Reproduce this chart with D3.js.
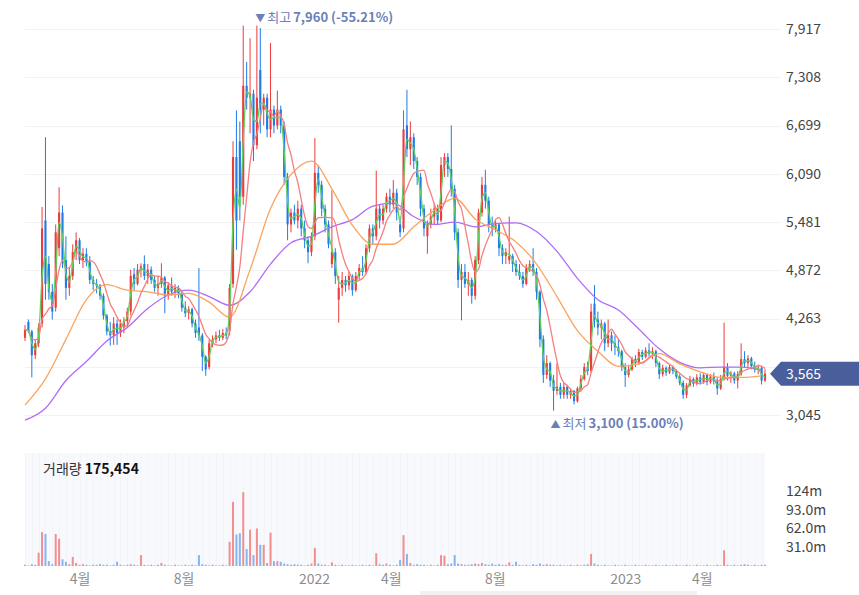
<!DOCTYPE html>
<html>
<head>
<meta charset="utf-8">
<script src="https://cdn.jsdelivr.net/npm/d3@7"></script>
<style>
  body { margin: 0; background: #fff; }
  svg text { font-family: 'Noto Sans CJK KR', 'Noto Sans', sans-serif; }
</style>
</head>
<body>
<div id="chart"></div>
<script>
// candles: one every 4 calendar days from 2021-01-27
const startDay = '2021-01-27'
const stepDays = 4

const opens = [
  4020, 4220, 4100, 3800, 3950, 4200, 5500, 4950, 4600, 4400,
  5150, 5600, 5000, 4650, 4800, 5100, 5250, 5000, 5080, 4980,
  4750, 4700, 4680, 4550, 4300, 4100, 4050, 4200, 4080, 4150,
  4230, 4350, 4820, 4700, 4880, 4950, 4800, 4880, 4750, 4650,
  4700, 4780, 4550, 4680, 4600, 4650, 4580, 4400, 4330, 4380,
  4200, 4150, 4050, 3780, 3650, 3950, 4000, 4050, 4020, 4080,
  4100, 4700, 6300, 6500, 5800, 7200, 7050, 7100, 6450, 7400,
  6900, 7050, 6650, 6900, 6700, 6900, 6700, 6050, 5450, 5600,
  5500, 5650, 5400, 5250, 5100, 5300, 6100, 5950, 5650, 5450,
  4950, 5100, 4500, 4650, 4750, 4680, 4800, 4620, 4800, 4900,
  4850, 5150, 5400, 5300, 5650, 5500, 5650, 5800, 5700, 5850,
  5450, 5400, 6700, 6400, 6550, 6250, 6050, 5650, 5300, 5450,
  5550, 5650, 5500, 6200, 6300, 6150, 5900, 5350, 4750, 4850,
  4700, 4750, 4550, 5000, 5600, 5950, 5750, 5450, 5400, 5450,
  5150, 5050, 5000, 5050, 4950, 4850, 4800, 4700, 4900, 4950,
  4850, 4600, 4000, 3550, 3700, 3480, 3350, 3400, 3300, 3400,
  3300, 3350, 3220, 3380, 3500, 3650, 3600, 4450, 4250, 4150,
  4200, 3950, 4050, 3950, 3900, 3850, 3650, 3550, 3620, 3750,
  3700, 3840, 3780, 3860, 3820, 3850, 3700, 3560, 3640, 3580,
  3650, 3600, 3530, 3450, 3300, 3420, 3500, 3440, 3520, 3460,
  3550, 3460, 3530, 3470, 3380, 3500, 3650, 3540, 3570, 3480,
  3560, 3750, 3700, 3760, 3660, 3620, 3640, 3480
]
const highs = [
  4180, 4250, 4120, 4000, 4200, 5670, 6550, 5050, 4700, 5450,
  5920, 5690, 5300, 4900, 5200, 5350, 5280, 5150, 5150, 5050,
  4800, 4760, 4700, 4580, 4320, 4220, 4280, 4250, 4250, 4280,
  4400, 4880, 4900, 4950, 4960, 5060, 4950, 4920, 4800, 4800,
  4960, 4800, 4720, 4780, 4700, 4680, 4600, 4480, 4420, 4400,
  4250, 4900, 4080, 3800, 4000, 4050, 4100, 4120, 4130, 4150,
  4700, 6500, 6890, 6750, 7960, 7500, 7800, 7150, 7960, 7930,
  7100, 7100, 7740, 6950, 7140, 6950, 6750, 6100, 5650, 5700,
  5750, 5700, 5500, 5300, 5350, 6540, 6200, 6000, 5700, 5500,
  5880, 5150, 4800, 4850, 4800, 4850, 4820, 4850, 4950, 5050,
  5200, 5450, 5450, 6130, 5700, 5700, 5850, 5900, 6010, 5900,
  5550, 6890, 7150, 6750, 6600, 6300, 6100, 5700, 5500, 5650,
  5720, 5700, 6300, 6350, 6350, 6700, 5950, 5400, 4950, 4950,
  4850, 4780, 5050, 5650, 6050, 6140, 5800, 5550, 5500, 5470,
  5200, 5150, 5550, 5080, 5000, 4950, 4850, 4950, 5000, 5150,
  4900, 4620, 4050, 3800, 3720, 3550, 3700, 3450, 3450, 3420,
  3380, 3360, 3400, 3550, 3700, 3720, 4450, 4685, 4350, 4250,
  4220, 4250, 4100, 4050, 4000, 3870, 3700, 3680, 3780, 3800,
  3880, 3870, 3900, 3950, 3900, 3870, 3720, 3680, 3660, 3680,
  3670, 3620, 3560, 3480, 3450, 3540, 3520, 3560, 3570, 3580,
  3570, 3560, 3580, 3520, 3550, 4210, 3700, 3600, 3590, 3600,
  3950, 3850, 3800, 3780, 3720, 3680, 3650, 3620
]
const lows = [
  3980, 4080, 3520, 3750, 3900, 4150, 4500, 4500, 4250, 4350,
  5050, 4900, 4500, 4550, 4750, 5000, 4950, 4900, 4920, 4700,
  4620, 4580, 4500, 4250, 4050, 3920, 3930, 3930, 4030, 4080,
  4150, 4300, 4620, 4680, 4780, 4750, 4700, 4700, 4600, 4550,
  4650, 4330, 4500, 4550, 4520, 4520, 4350, 4280, 4250, 4150,
  4020, 3980, 3600, 3540, 3620, 3900, 3950, 3980, 3990, 4000,
  4050, 4650, 5130, 5500, 5700, 6900, 6600, 6250, 6400, 6600,
  6700, 6550, 6550, 6600, 6650, 6600, 5950, 5250, 5350, 5450,
  5400, 5300, 5150, 4960, 5050, 5250, 5850, 5550, 5350, 5150,
  4900, 4700, 4210, 4550, 4600, 4620, 4550, 4600, 4750, 4800,
  4820, 5100, 5200, 5250, 5400, 5450, 5600, 5600, 5650, 5500,
  5290, 5350, 6300, 6200, 6150, 5950, 5550, 5300, 5080, 5400,
  5450, 5450, 5480, 6050, 6050, 5800, 5250, 4650, 4240, 4650,
  4550, 4450, 4500, 4950, 5550, 5650, 5350, 5300, 5350, 5050,
  4950, 4950, 4950, 4850, 4800, 4750, 4650, 4680, 4850, 4800,
  4500, 3900, 3450, 3500, 3400, 3100, 3300, 3250, 3250, 3250,
  3250, 3180, 3200, 3350, 3480, 3550, 3580, 4150, 4050, 4000,
  3850, 3900, 3850, 3800, 3780, 3600, 3400, 3520, 3600, 3650,
  3680, 3740, 3760, 3780, 3750, 3650, 3500, 3530, 3540, 3560,
  3560, 3500, 3420, 3250, 3260, 3400, 3400, 3420, 3430, 3440,
  3420, 3440, 3430, 3300, 3360, 3480, 3480, 3450, 3440, 3380,
  3540, 3640, 3650, 3620, 3580, 3560, 3430, 3460
]
const closes = [
  4120, 4100, 3800, 3950, 4150, 5400, 4700, 4600, 4350, 5350,
  5600, 5000, 4650, 4800, 5100, 5250, 5000, 5080, 4980, 4750,
  4700, 4680, 4550, 4300, 4100, 4050, 4200, 4080, 4200, 4230,
  4350, 4800, 4700, 4880, 4920, 4800, 4880, 4750, 4650, 4700,
  4780, 4550, 4680, 4600, 4650, 4580, 4400, 4330, 4380, 4200,
  4080, 4050, 3780, 3620, 3950, 4000, 4050, 4020, 4080, 4050,
  4650, 6300, 5500, 5800, 7200, 7050, 7100, 6450, 7050, 6900,
  7050, 6650, 6900, 6700, 6900, 6700, 6050, 5450, 5600, 5500,
  5650, 5400, 5250, 5100, 5300, 6100, 5950, 5650, 5450, 5200,
  5100, 4800, 4650, 4750, 4680, 4800, 4620, 4800, 4900, 4850,
  5150, 5400, 5300, 5650, 5500, 5650, 5800, 5700, 5850, 5600,
  5350, 6650, 6400, 6550, 6250, 6050, 5650, 5400, 5450, 5550,
  5650, 5500, 6200, 6300, 6150, 5900, 5350, 4750, 4850, 4700,
  4750, 4550, 5000, 5600, 5950, 5750, 5450, 5400, 5450, 5150,
  5050, 5100, 5050, 4950, 4850, 4800, 4700, 4900, 4950, 4850,
  4600, 4000, 3550, 3700, 3480, 3350, 3400, 3300, 3400, 3300,
  3350, 3220, 3380, 3500, 3650, 3600, 4350, 4250, 4150, 4200,
  3950, 4050, 3950, 3900, 3850, 3650, 3550, 3620, 3750, 3700,
  3840, 3780, 3860, 3820, 3850, 3700, 3560, 3640, 3580, 3650,
  3600, 3530, 3450, 3300, 3420, 3500, 3440, 3520, 3460, 3550,
  3460, 3530, 3470, 3380, 3500, 3650, 3540, 3570, 3480, 3560,
  3750, 3700, 3760, 3660, 3620, 3640, 3480, 3565
]
// volume in millions
const volumes = [
  2, 1, 3, 2, 22, 56, 53, 8, 3, 53,
  45, 11, 7, 3, 15, 5, 2, 3, 2, 1,
  2, 2, 3, 2, 2, 1, 2, 7, 2, 1,
  2, 3, 2, 1, 18, 2, 1, 2, 1, 2,
  5, 2, 1, 1, 2, 1, 1, 2, 1, 2,
  1, 18, 3, 2, 1, 2, 1, 1, 2, 1,
  40, 106, 52, 54, 122, 28, 60, 18, 62, 35,
  35, 5, 55, 8, 8, 7, 4, 3, 2, 3,
  2, 2, 1, 2, 4, 30, 4, 2, 2, 1,
  6, 2, 1, 2, 1, 1, 2, 1, 1, 2,
  1, 2, 1, 21, 3, 2, 4, 2, 1, 2,
  10, 51, 20, 5, 2, 3, 2, 2, 1, 2,
  1, 2, 18, 17, 3, 4, 18, 4, 3, 2,
  2, 3, 4, 3, 5, 3, 2, 4, 2, 3,
  2, 2, 6, 2, 7, 2, 1, 2, 1, 3,
  2, 4, 2, 3, 2, 2, 1, 2, 1, 1,
  2, 1, 2, 1, 2, 3, 20, 4, 2, 1,
  2, 1, 1, 2, 1, 1, 2, 1, 1, 2,
  1, 1, 2, 1, 1, 2, 1, 1, 2, 1,
  1, 2, 1, 1, 2, 1, 1, 2, 1, 1,
  2, 1, 1, 2, 1, 26, 2, 1, 2, 1,
  2, 3, 2, 1, 2, 1, 2, 2
]
// long moving averages, one value every 6 candles
const ma60Every6 = [3170, 3500, 4000, 4500, 4690, 4620, 4600, 4560, 4580, 4470, 4280, 4880, 5650,
  6080, 6250, 5900, 5440, 5200, 5200, 5420, 5630, 5780, 5520, 5380, 5230, 4950, 4540, 4110,
  3850, 3660, 3690, 3820, 3690, 3590, 3520, 3520, 3540]
const ma120Every6 = [2980, 3130, 3480, 3720, 3980, 4150, 4390, 4560, 4620, 4540, 4430, 4600, 4950,
  5220, 5300, 5420, 5510, 5680, 5720, 5550, 5450, 5480, 5420, 5460, 5470, 5360, 5110, 4770,
  4500, 4370, 4130, 3880, 3710, 3640, 3650, 3650, 3610]

const priceTicks = [3045, 3654, 4263, 4872, 5481, 6090, 6699, 7308, 7917]
const volTicks = [31, 62, 93, 124]
const volTickLabels = ['31.0m', '62.0m', '93.0m', '124m']
const monthTicks = ['2021-04-01', '2021-08-01', '2022-01-01', '2022-04-01', '2022-08-01', '2023-01-01', '2023-04-01']
const monthLabels = ['4월', '8월', '2022', '4월', '8월', '2023', '4월']
const lastVolumeText = '175,454'

const W = 859, H = 595
const upColor = '#ee3b3b', downColor = '#1f7be6'
const font = "'Noto Sans CJK KR', 'Noto Sans', sans-serif"
const parse = d3.timeParse('%Y-%m-%d')
const day0 = parse(startDay)
const dates = closes.map((_, i) => d3.timeDay.offset(day0, i * stepDays))
const n = closes.length

const x = d3.scaleTime()
  .domain([dates[0], dates[n - 1]])
  .range([25, 765])
const y = d3.scaleLinear()
  .domain([3045, 7917])
  .range([415, 29])
const yV = d3.scaleLinear()
  .domain([0, 124])
  .range([566, 491])

const svg = d3.select('#chart').append('svg')
  .attr('width', W)
  .attr('height', H)

// price grid
svg.append('g').selectAll('line')
  .data(priceTicks)
  .enter().append('line')
  .attr('x1', 25).attr('x2', 781)
  .attr('y1', d => Math.round(y(d)) + 0.5)
  .attr('y2', d => Math.round(y(d)) + 0.5)
  .attr('stroke', '#f1f2f4')

// volume panel
svg.append('rect')
  .attr('x', 25).attr('y', 453)
  .attr('width', 740).attr('height', 113)
  .attr('fill', '#f8f9fd')
svg.append('g').selectAll('line')
  .data(dates.filter((_, i) => i % 2 === 0))
  .enter().append('line')
  .attr('x1', d => Math.round(x(d)) + 0.5)
  .attr('x2', d => Math.round(x(d)) + 0.5)
  .attr('y1', 453).attr('y2', 566)
  .attr('stroke', '#f3f4fa')

const spacing = x(dates[1]) - x(dates[0])
const bw = Math.max(1, spacing * 0.62)

svg.append('g').selectAll('rect')
  .data(d3.range(n))
  .enter().append('rect')
  .attr('x', i => x(dates[i]) - 1)
  .attr('width', 2)
  .attr('y', i => yV(volumes[i]))
  .attr('height', i => 566 - yV(volumes[i]))
  .attr('fill', i => closes[i] >= opens[i] ? '#f28e8e' : '#82b6f4')

// candles
const candles = svg.append('g')
candles.selectAll('line')
  .data(d3.range(n))
  .enter().append('line')
  .attr('x1', i => x(dates[i]))
  .attr('x2', i => x(dates[i]))
  .attr('y1', i => y(highs[i]))
  .attr('y2', i => y(lows[i]))
  .attr('stroke', i => closes[i] >= opens[i] ? upColor : downColor)
  .attr('stroke-width', 1)
candles.selectAll('rect')
  .data(d3.range(n))
  .enter().append('rect')
  .attr('x', i => x(dates[i]) - bw / 2)
  .attr('width', bw)
  .attr('y', i => y(Math.max(opens[i], closes[i])))
  .attr('height', i => Math.max(1, Math.abs(y(opens[i]) - y(closes[i]))))
  .attr('fill', i => closes[i] >= opens[i] ? upColor : downColor)

// moving averages
const rolling = (arr, k) => arr.map((_, i) => d3.mean(arr.slice(Math.max(0, i - k + 1), i + 1)))
const ma5 = rolling(closes, 2)
const ma20 = rolling(closes, 7)

const maLine = d3.line()
  .x(d => x(d[0]))
  .y(d => y(d[1]))
  .curve(d3.curveMonotoneX)

const maSeries = [
  { pts: ma120Every6.map((v, k) => [dates[k * 6], v]), color: '#b06cf4' },
  { pts: ma60Every6.map((v, k) => [dates[k * 6], v]), color: '#fba45e' },
  { pts: ma20.map((v, i) => [dates[i], v]), color: '#f67f7f' },
  { pts: ma5.map((v, i) => [dates[i], v]), color: '#5fd15f' }
]
svg.append('g').selectAll('path')
  .data(maSeries)
  .enter().append('path')
  .attr('d', d => maLine(d.pts))
  .attr('fill', 'none')
  .attr('stroke', d => d.color)
  .attr('stroke-width', 1.3)

// right price axis
const yAxis = svg.append('g')
  .attr('transform', 'translate(781,0)')
  .call(d3.axisRight(y).tickValues(priceTicks).tickFormat(d3.format(',')).tickSize(0).tickPadding(5))
yAxis.select('.domain').remove()
yAxis.selectAll('text').attr('font-size', 14).attr('fill', '#444').style('font-family', font)

// volume axis
const vAxis = svg.append('g')
  .attr('transform', 'translate(781,0)')
  .call(d3.axisRight(yV).tickValues(volTicks).tickFormat((d, i) => volTickLabels[i]).tickSize(0).tickPadding(5))
vAxis.select('.domain').remove()
vAxis.selectAll('text').attr('font-size', 14).attr('fill', '#444').style('font-family', font)

// month axis
const xAxis = svg.append('g')
  .attr('transform', 'translate(0,566)')
  .call(d3.axisBottom(x).tickValues(monthTicks.map(parse)).tickFormat((d, i) => monthLabels[i]).tickSize(0).tickPadding(8))
xAxis.select('.domain').remove()
xAxis.selectAll('text').attr('font-size', 14).attr('fill', '#8d8d8d').style('font-family', font)

// last price tag (covers the 3,654 tick like the original)
const last = closes[n - 1]
const ty = y(last)
svg.append('path')
  .attr('d', `M770,${ty} L781,${ty - 12} L859,${ty - 12} L859,${ty + 12} L781,${ty + 12} Z`)
  .attr('fill', '#4a5e9c')
svg.append('text')
  .attr('x', 786).attr('y', ty + 5)
  .attr('font-size', 14).attr('fill', '#fff')
  .text(d3.format(',')(last))

// high / low markers
const maxI = d3.maxIndex(highs), minI = d3.minIndex(lows)
const pct = v => v.toFixed(2)
const hiTxt = svg.append('text')
  .attr('x', x(dates[maxI]) + 12).attr('y', 22)
  .attr('fill', '#6b80b8').attr('font-size', 13)
hiTxt.append('tspan').attr('font-size', 10).text('▼')
hiTxt.append('tspan').attr('dx', 2).text('최고')
hiTxt.append('tspan').attr('dx', 2).attr('font-weight', 'bold')
  .text(`${d3.format(',')(highs[maxI])} (${pct((last - highs[maxI]) / highs[maxI] * 100)}%)`)

const loTxt = svg.append('text')
  .attr('x', x(dates[minI]) - 3).attr('y', 428)
  .attr('fill', '#6b80b8').attr('font-size', 13)
loTxt.append('tspan').attr('font-size', 10).text('▲')
loTxt.append('tspan').attr('dx', 2).text('최저')
loTxt.append('tspan').attr('dx', 2).attr('font-weight', 'bold')
  .text(`${d3.format(',')(lows[minI])} (${pct((last - lows[minI]) / lows[minI] * 100)}%)`)

// volume label
const vTxt = svg.append('text')
  .attr('x', 43).attr('y', 474)
  .attr('font-size', 14).attr('fill', '#333')
vTxt.append('tspan').text('거래량 ')
vTxt.append('tspan').attr('font-weight', 'bold').attr('fill', '#111').text(lastVolumeText)

svg.append('rect')
  .attr('x', 420).attr('y', 591)
  .attr('width', 277).attr('height', 4)
  .attr('fill', '#f1f1f1')
</script>
</body>
</html>
